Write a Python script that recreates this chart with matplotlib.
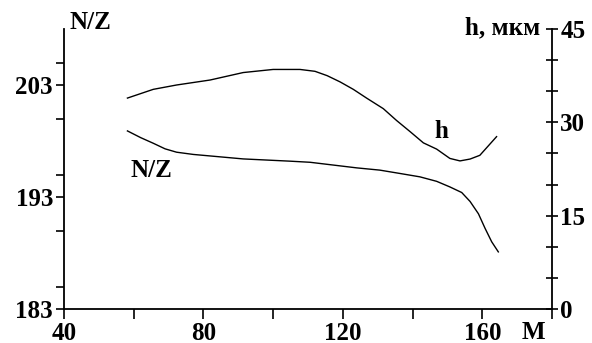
import matplotlib
matplotlib.use("Agg")
import matplotlib.pyplot as plt
from matplotlib.ticker import MultipleLocator, FixedLocator

# data
m_h = [58.2, 65.6, 72.3, 81.9, 91.4, 100.0, 107.7, 112.0, 115.5, 119.2, 123.0, 126.8,
       131.6, 135.4, 139.3, 143.1, 146.9, 150.7, 153.6, 156.5, 159.3, 161.7, 164.1]
h_vals = [33.9, 35.3, 36.0, 36.8, 38.0, 38.5, 38.5, 38.2, 37.5, 36.5, 35.3, 33.9,
          32.2, 30.3, 28.5, 26.7, 25.7, 24.2, 23.8, 24.1, 24.7, 26.2, 27.7]

m_nz = [58.2, 62.0, 65.6, 69.0, 72.3, 77.1, 91.4, 104.8, 110.6, 124.0, 130.6, 136.4,
        142.1, 146.9, 150.7, 154.1, 156.5, 158.9, 160.8, 162.7, 164.6]
nz_vals = [198.9, 198.3, 197.8, 197.3, 197.0, 196.8, 196.4, 196.2, 196.1, 195.6, 195.4, 195.1,
           194.8, 194.4, 193.9, 193.4, 192.6, 191.5, 190.2, 189.0, 188.1]

x_ticks = [40, 80, 120, 160]
nz_ticks = [183, 193, 203]
h_ticks = [0, 15, 30, 45]

W, H = 592, 343
fig = plt.figure(figsize=(W / 100, H / 100), dpi=100)
L, R, B, T = 64, 552, 309, 29
ax = fig.add_axes([L / W, 1 - B / H, (R - L) / W, (B - T) / H])
ax2 = ax.twinx()

FS = 18
font = dict(family="Liberation Serif", weight="bold", size=FS)

ax.plot(m_nz, nz_vals, color="black", lw=1.0)
ax2.plot(m_h, h_vals, color="black", lw=1.0)

ax.set_xlim(40, 180)
ax.set_ylim(183, 208)
ax2.set_ylim(0, 45)

for a in (ax, ax2):
    a.spines["top"].set_visible(False)
    for s in a.spines.values():
        s.set_linewidth(1.3)
ax.spines["right"].set_visible(False)
ax2.spines["left"].set_visible(False)
ax2.spines["bottom"].set_visible(False)

ax.xaxis.set_major_locator(FixedLocator(x_ticks))
ax.xaxis.set_minor_locator(MultipleLocator(20))
ax.yaxis.set_major_locator(FixedLocator(nz_ticks))
ax.yaxis.set_minor_locator(MultipleLocator(5))
ax2.yaxis.set_major_locator(FixedLocator(h_ticks))
ax2.yaxis.set_minor_locator(MultipleLocator(5))

ax.tick_params(axis="x", which="both", direction="out", length=7, width=1.2, pad=2)
ax.tick_params(axis="y", which="both", direction="out", length=6, width=1.2, pad=2)
ax2.tick_params(axis="y", which="both", direction="inout", length=8, width=1.2, pad=2)

for lab in ax.get_xticklabels() + ax.get_yticklabels() + ax2.get_yticklabels():
    lab.set_fontfamily("Liberation Serif")
    lab.set_fontweight("bold")
    lab.set_fontsize(FS)

fig.text(70 / W, 1 - 29 / H, "N/Z", ha="left", va="baseline", **font)
fig.text(540 / W, 1 - 34 / H, "h, мкм", ha="right", va="baseline", **font)
fig.text(533 / W, 1 - 339 / H, "M", ha="center", va="baseline", **font)

ax.text(59.0, 195.4, "N/Z", ha="left", va="center", **font)
ax2.text(148.4, 28.6, "h", ha="center", va="center", **font)

fig.savefig("out.png", dpi=100)
